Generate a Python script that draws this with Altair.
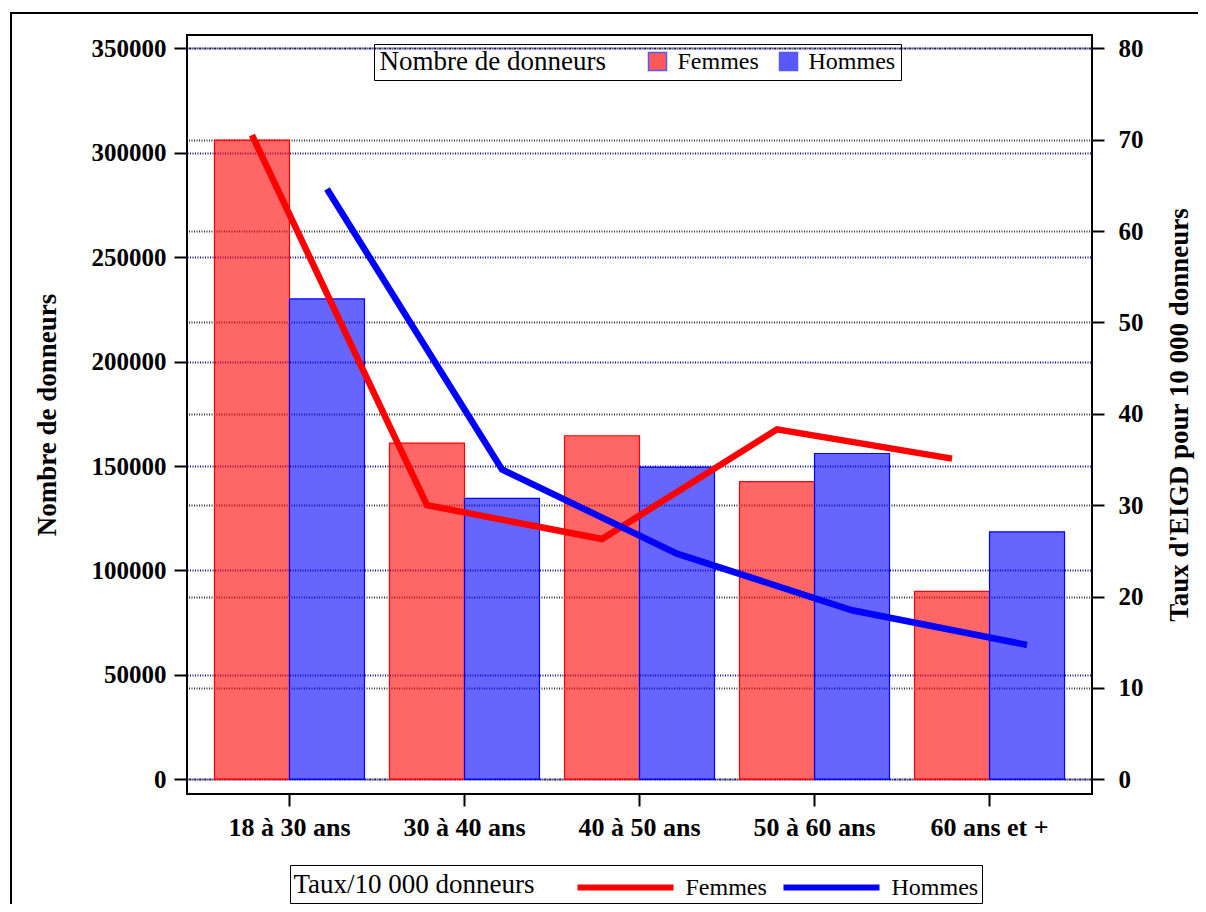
import altair as alt
import pandas as pd

ages = ["18 à 30 ans", "30 à 40 ans", "40 à 50 ans", "50 à 60 ans", "60 ans et +"]
sexes = ["Femmes", "Hommes"]
series_taux = ["Taux Femmes", "Taux Hommes"]
donneurs_femmes = [306000, 161000, 164500, 142500, 90000]
donneurs_hommes = [230000, 134500, 149500, 156000, 118500]
taux_femmes = [70.5, 30.0, 26.3, 38.3, 35.1]
taux_hommes = [64.6, 33.9, 24.7, 18.5, 14.7]
left_ticks = [0, 50000, 100000, 150000, 200000, 250000, 300000, 350000]
right_ticks = [0, 10, 20, 30, 40, 50, 60, 70, 80]
colors = ["#ff0000", "#0000ff"]

FONT = "Liberation Serif"

bars_df = pd.DataFrame({
    "Age": ages * 2,
    "Sexe": [sexes[0]] * len(ages) + [sexes[1]] * len(ages),
    "Nombre": donneurs_femmes + donneurs_hommes,
})
lines_df = pd.DataFrame({
    "Age": ages * 2,
    "Sexe": [sexes[0]] * len(ages) + [sexes[1]] * len(ages),
    "Serie": [series_taux[0]] * len(ages) + [series_taux[1]] * len(ages),
    "Taux": taux_femmes + taux_hommes,
})
frame_df = pd.DataFrame({"k": [0]})

x_enc = alt.X(
    "Age:N", sort=ages, title=None,
    scale=alt.Scale(paddingInner=0.1429, paddingOuter=0.157),
    axis=alt.Axis(labelAngle=0, labelFont=FONT, labelFontSize=26, labelFontWeight="bold",
                  labelColor="black", tickSize=12, tickWidth=2, tickColor="black",
                  domain=False, labelPadding=8, grid=False),
)
xo_enc = alt.XOffset("Sexe:N", sort=sexes)

bars = alt.Chart(bars_df).mark_bar(fillOpacity=0.6, strokeWidth=1.2).encode(
    x=x_enc,
    xOffset=xo_enc,
    y=alt.Y("Nombre:Q", stack=None,
            scale=alt.Scale(domain=[-7040, 356370], nice=False, zero=False),
            axis=alt.Axis(values=left_ticks, format="d", title="Nombre de donneurs",
                          titleFont=FONT, titleFontSize=27, titleFontWeight="bold", titleColor="black",
                          labelFont=FONT, labelFontSize=25, labelFontWeight="bold", labelColor="black",
                          tickSize=13, tickWidth=2, tickColor="black", domain=False,
                          grid=True, gridColor="#10109a", gridDash=[1, 1.5], gridWidth=2,
                          gridOpacity=1, labelPadding=8, titlePadding=30)),
    fill=alt.Fill("Sexe:N", sort=sexes, scale=alt.Scale(domain=sexes, range=colors),
                  legend=alt.Legend(title="Nombre de donneurs", orient="none", legendX=187, legendY=9,
                                    direction="horizontal", titleOrient="left", titleLimit=500,
                                    titleFont=FONT, titleFontSize=27, titleFontWeight="normal",
                                    titleColor="black", labelFont=FONT, labelFontSize=24,
                                    labelColor="black", symbolType="square", symbolSize=324,
                                    symbolStrokeWidth=1.5, symbolOpacity=0.65,
                                    strokeColor="black", padding=5.5, columnPadding=17,
                                    labelOffset=8, titlePadding=39)),
    stroke=alt.condition(alt.datum.Sexe == sexes[0], alt.value(colors[0]), alt.value(colors[1])),
)

lines = alt.Chart(lines_df).mark_line(strokeWidth=6.5).encode(
    x=x_enc,
    xOffset=xo_enc,
    y=alt.Y("Taux:Q",
            scale=alt.Scale(domain=[-1.61, 81.46], nice=False, zero=False),
            axis=alt.Axis(orient="right", values=right_ticks, format="d",
                          title="Taux d'EIGD pour 10 000 donneurs", titleAngle=270,
                          titleFont=FONT, titleFontSize=27, titleFontWeight="bold", titleColor="black",
                          labelFont=FONT, labelFontSize=25, labelFontWeight="bold", labelColor="black",
                          tickSize=12, tickWidth=2, tickColor="black", domain=False,
                          grid=True, gridColor="#333333", gridDash=[1, 1.5], gridWidth=2,
                          gridOpacity=1, labelPadding=14, titlePadding=50)),
    stroke=alt.Stroke("Serie:N", sort=series_taux, scale=alt.Scale(domain=series_taux, range=colors),
                      legend=alt.Legend(title="Taux/10 000 donneurs", orient="none", legendX=103, legendY=830,
                                        labelExpr="replace(datum.label, 'Taux ', '')",
                                        direction="horizontal", titleOrient="left", titleLimit=500,
                                        titleFont=FONT, titleFontSize=27, titleFontWeight="normal",
                                        titleColor="black", labelFont=FONT, labelFontSize=24,
                                        labelColor="black", symbolType="M-3,0L3,0", symbolSize=1024,
                                        symbolStrokeWidth=6, strokeColor="black", padding=3.5,
                                        columnPadding=4, labelOffset=41, titlePadding=71)),
)

frame = alt.Chart(frame_df).mark_rect(fillOpacity=0, stroke="black", strokeWidth=2).encode(
    x=alt.value(-176), x2=alt.value(1200), y=alt.value(-22), y2=alt.value(1000)
)

chart = alt.layer(bars, lines, frame).resolve_scale(
    y="independent"
).properties(
    width=905, height=759,
    autosize=alt.AutoSizeParams(type="none"),
    padding={"left": 179, "top": 27, "right": 106, "bottom": 110},
    background="white",
).configure(
    font=FONT
).configure_view(
    stroke="black", strokeWidth=2
)

chart.save("out.html", embed_options={"renderer": "svg", "actions": False})
